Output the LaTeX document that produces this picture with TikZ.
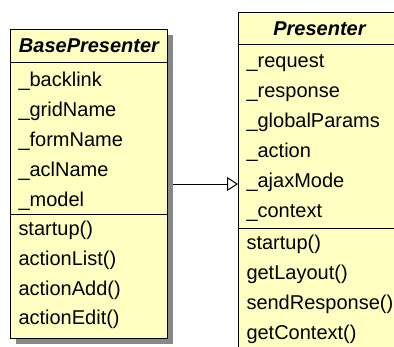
\documentclass[tikz,border=0pt]{standalone}
\usepackage{fontspec}
\setmainfont{Liberation Sans}
\usepackage{tikz}
\usetikzlibrary{arrows.meta, positioning, shadows}
\definecolor{classyellow}{RGB}{255,255,194}
\definecolor{shadowgray}{RGB}{136,136,136}

\begin{document}
\begin{tikzpicture}[x=1pt, y=-1pt, line width=1pt,
        classbox/.style={draw=black, fill=classyellow, anchor=north west, inner sep=0pt,
          drop shadow={shadow xshift=5pt, shadow yshift=-5pt, fill=shadowgray, opacity=1}},
        classname/.style={anchor=base, inner sep=0pt, font=\fontsize{20}{24}\selectfont\bfseries\itshape},
        member/.style={anchor=base west, inner sep=0pt, font=\fontsize{20}{24}\selectfont}]
      \path[use as bounding box, clip] (0,0) rectangle (394,346);
      % classes
      \node[classbox, minimum width=157pt, minimum height=309pt] (base) at (10,29) {};
      \node[classbox, minimum width=162pt, minimum height=360pt] (pres) at (238,12) {};
      \draw ([yshift=-33pt]base.north west) -- ([yshift=-33pt]base.north east);
      \draw ([yshift=-185pt]base.north west) -- ([yshift=-185pt]base.north east);
      \draw ([yshift=-32pt]pres.north west) -- ([yshift=-32pt]pres.north east);
      \draw ([yshift=-216pt]pres.north west) -- ([yshift=-216pt]pres.north east);
      \node[classname] (basename) at ([yshift=-23.6pt]base.north) {BasePresenter};
      \node[classname] (presname) at ([yshift=-23pt]pres.north) {Presenter};
      % BasePresenter members
      \node[member] (backlink) at (18,86) {\_backlink};
      \node[member] (gridname) at (18,116) {\_gridName};
      \node[member] (formname) at (18,146) {\_formName};
      \node[member] (aclname) at (18,176) {\_aclName};
      \node[member] (model) at (18,206) {\_model};
      \node[member] (basestartup) at (18,235) {startup()};
      \node[member] (actionlist) at (18,265) {actionList()};
      \node[member] (actionadd) at (18,295) {actionAdd()};
      \node[member] (actionedit) at (18,324) {actionEdit()};
      % Presenter members
      \node[member] (request) at (246,67) {\_request};
      \node[member] (response) at (246,97) {\_response};
      \node[member] (globalparams) at (246,127) {\_globalParams};
      \node[member] (action) at (246,157) {\_action};
      \node[member] (ajaxmode) at (246,187) {\_ajaxMode};
      \node[member] (context) at (246,217) {\_context};
      \node[member] (presstartup) at (246,249) {startup()};
      \node[member] (getlayout) at (246,279) {getLayout()};
      \node[member] (sendresponse) at (246,309) {sendResponse()};
      \node[member] (getcontext) at (246,339) {getContext()};
      % generalisation
      \draw[-{Triangle[open, length=11pt, width=14pt]}] ([xshift=5pt]base.east) -- (base.east -| pres.west);
    \end{tikzpicture}
\end{document}
